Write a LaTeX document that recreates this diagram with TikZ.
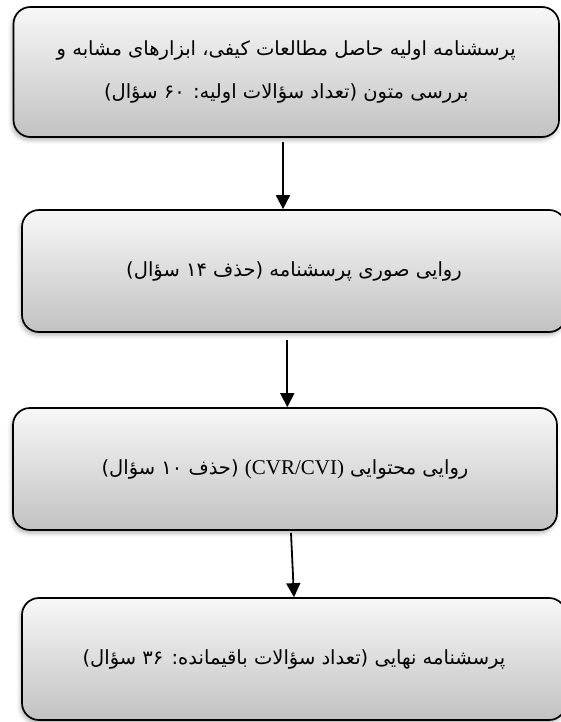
\documentclass[tikz,border=0pt]{standalone}
\usepackage{fontspec}
\setmainfont{Liberation Serif}
\newfontfamily\arabicfont[Script=Arabic]{DejaVu Sans}
\TeXXeTstate=1
\usetikzlibrary{arrows.meta,shadows.blur}
\tikzset{
  stepbox/.style={draw=black, line width=1.7pt, rounded corners=17pt,
    top color=black!3, bottom color=black!24,
    blur shadow={shadow xshift=-1.5pt, shadow yshift=-3pt, shadow blur radius=4pt, shadow opacity=30},
    inner sep=0pt, align=center,
    font=\arabicfont\fontsize{19.5}{43}\selectfont},
  arr/.style={line width=1.8pt, -{Triangle[width=14pt,length=14pt]}}
}
\begin{document}
\begin{tikzpicture}[x=1pt,y=-1pt]
\useasboundingbox (0,0) rectangle (561,722);
\node[stepbox, minimum width=545.5pt, minimum height=130pt] (b1) at (286.25,72)
  {\beginR پرسشنامه اولیه حاصل مطالعات کیفی، ابزارهای مشابه و\endR\\
   \beginR بررسی متون (تعداد سؤالات اولیه: ۶۰ سؤال)\endR};
\node[stepbox, minimum width=544pt, minimum height=122pt] (b2) at (294,271)
  {\beginR روایی صوری پرسشنامه (حذف ۱۴ سؤال)\endR};
\node[stepbox, minimum width=544pt, minimum height=122pt] (b3) at (285,469)
  {\beginR روایی محتوایی \beginL{\rmfamily\fontsize{21}{43}\selectfont (CVR/CVI)}\endL{} (حذف ۱۰ سؤال)\endR};
\node[stepbox, minimum width=544pt, minimum height=122pt] (b4) at (294,659)
  {\beginR پرسشنامه نهایی (تعداد سؤالات باقیمانده: ۳۶ سؤال)\endR};
\coordinate (a1s) at ([shift={(-3.25,4)}]b1.south);
\coordinate (a2s) at ([shift={(-6.7,7)}]b2.south);
\coordinate (a3s) at ([shift={(6,2)}]b3.south);
\draw[arr] (a1s) -- (a1s |- b2.north);
\draw[arr] (a2s) -- (a2s |- b3.north);
\draw[arr] (a3s) -- (b4.north);
\end{tikzpicture}
\end{document}
